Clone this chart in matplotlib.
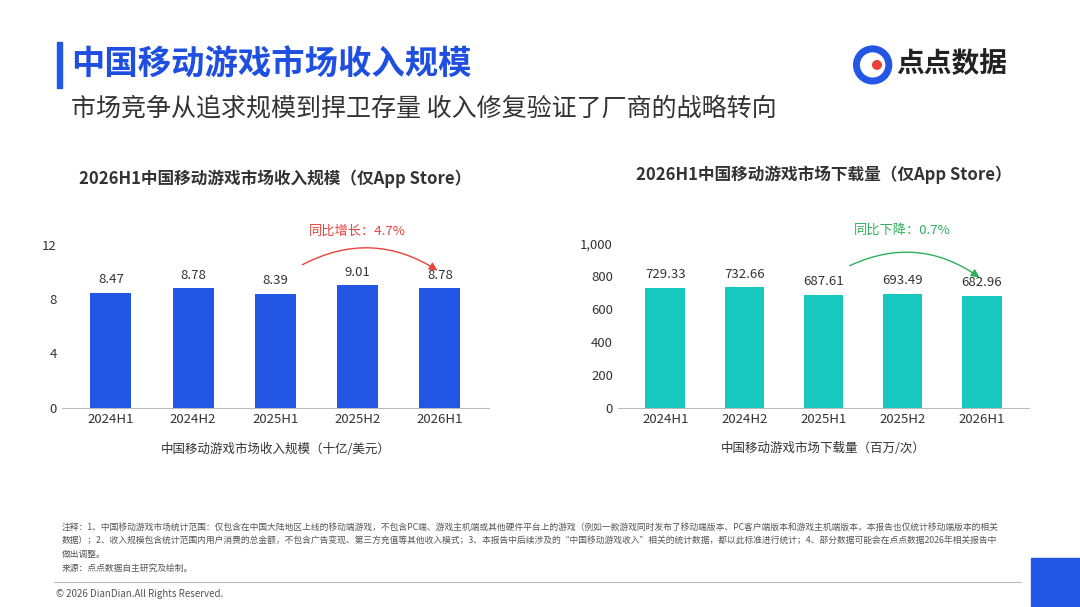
import matplotlib.pyplot as plt
from matplotlib.patches import FancyArrowPatch, Rectangle, Ellipse

plt.rcParams['font.family'] = ['Noto Sans CJK SC', 'DejaVu Sans']

periods = ['2024H1', '2024H2', '2025H1', '2025H2', '2026H1']
revenue = [8.47, 8.78, 8.39, 9.01, 8.78]
downloads = [729.33, 732.66, 687.61, 693.49, 682.96]

fig = plt.figure(figsize=(10.8, 6.07), dpi=100)
fig.patch.set_facecolor('white')

# header
fig.patches.append(Rectangle((0.053, 0.855), 0.004, 0.075, transform=fig.transFigure,
                             color='#2456E6'))
fig.text(0.066, 0.893, '中国移动游戏市场收入规模', fontsize=24, fontweight='bold',
         color='#1F4FE0', va='center')
fig.text(0.066, 0.822, '市场竞争从追求规模到捍卫存量 收入修复验证了厂商的战略转向', fontsize=18,
         color='#333333', va='center')
fig.patches.append(Ellipse((0.808, 0.893), 0.03, 0.053, transform=fig.transFigure,
                           fill=False, lw=5, color='#2456E6'))
fig.patches.append(Ellipse((0.812, 0.893), 0.008, 0.014, transform=fig.transFigure,
                           color='#E8423A'))
fig.text(0.83, 0.893, '点点数据', fontsize=20, fontweight='bold', color='#222222', va='center')

def draw(rect, vals, color, ylim, ticks, ticklabels, title, xlabel, note, note_color, pad):
    ax = fig.add_axes(rect)
    x = range(len(periods))
    ax.bar(x, vals, width=0.5, color=color)
    for i, v in enumerate(vals):
        ax.text(i, v + ylim * 0.04, '{:.2f}'.format(v), ha='center', va='bottom',
                fontsize=9.5, color='#333333')
    ax.set_xticks(list(x))
    ax.set_xticklabels(periods, fontsize=9.5, color='#333333')
    ax.set_ylim(0, ylim)
    ax.set_yticks(ticks)
    ax.set_yticklabels(ticklabels, fontsize=9.5, color='#333333')
    ax.set_xlim(-0.6, 4.6)
    ax.tick_params(length=0)
    for s in ['top', 'right', 'left']:
        ax.spines[s].set_visible(False)
    ax.spines['bottom'].set_color('#BBBBBB')
    ax.set_xlabel(xlabel, fontsize=9, color='#333333', labelpad=12)
    ax.set_title(title, fontsize=12, fontweight='bold', color='#333333', pad=pad)
    y0 = vals[2] + ylim * 0.17
    y1 = vals[4] + ylim * 0.1
    arr = FancyArrowPatch((2.3, y0), (4.0, y1), connectionstyle='arc3,rad=-0.3',
                          arrowstyle='-|>', mutation_scale=12, color=note_color, lw=1)
    ax.add_patch(arr)
    ax.text(3.0, ylim * 1.08, note, ha='center', va='center', fontsize=9.5,
            color=note_color, clip_on=False)
    return ax

draw([0.057, 0.328, 0.396, 0.269], revenue, '#2456E6', 12, [0, 4, 8, 12],
     ['0', '4', '8', '12'], '2026H1中国移动游戏市场收入规模（仅App Store）',
     '中国移动游戏市场收入规模（十亿/美元）', '同比增长：4.7%', '#E8423A', 44)
draw([0.572, 0.328, 0.381, 0.271], downloads, '#17C8C0', 1000, [0, 200, 400, 600, 800, 1000],
     ['0', '200', '400', '600', '800', '1,000'], '2026H1中国移动游戏市场下载量（仅App Store）',
     '中国移动游戏市场下载量（百万/次）', '同比下降：0.7%', '#2EAF5A', 46)

notes = ('注释：1、中国移动游戏市场统计范围：仅包含在中国大陆地区上线的移动端游戏，不包含PC端、游戏主机端或其他硬件平台上的游戏（例如一款游戏同时发布了移动端版本、PC客户端版本和游戏主机端版本，本报告也仅统计移动端版本的相关\n'
         '数据）；2、收入规模包含统计范围内用户消费的总金额，不包含广告变现、第三方充值等其他收入模式；3、本报告中后续涉及的“中国移动游戏收入”相关的统计数据，都以此标准进行统计；4、部分数据可能会在点点数据2026年相关报告中\n'
         '做出调整。\n'
         '来源：点点数据自主研究及绘制。')
fig.text(0.057, 0.138, notes, fontsize=6.3, color='#555555', va='top', linespacing=1.65)
fig.add_artist(plt.Line2D([0.05, 0.945], [0.042, 0.042], color='#BBBBBB', lw=0.8))
fig.text(0.052, 0.022, '© 2026 DianDian.All Rights Reserved.', fontsize=7, color='#555555', va='center')
fig.patches.append(Rectangle((0.955, -0.05), 0.09, 0.13, transform=fig.transFigure,
                             color='#2456E6'))

fig.savefig('out.png', dpi=100)
